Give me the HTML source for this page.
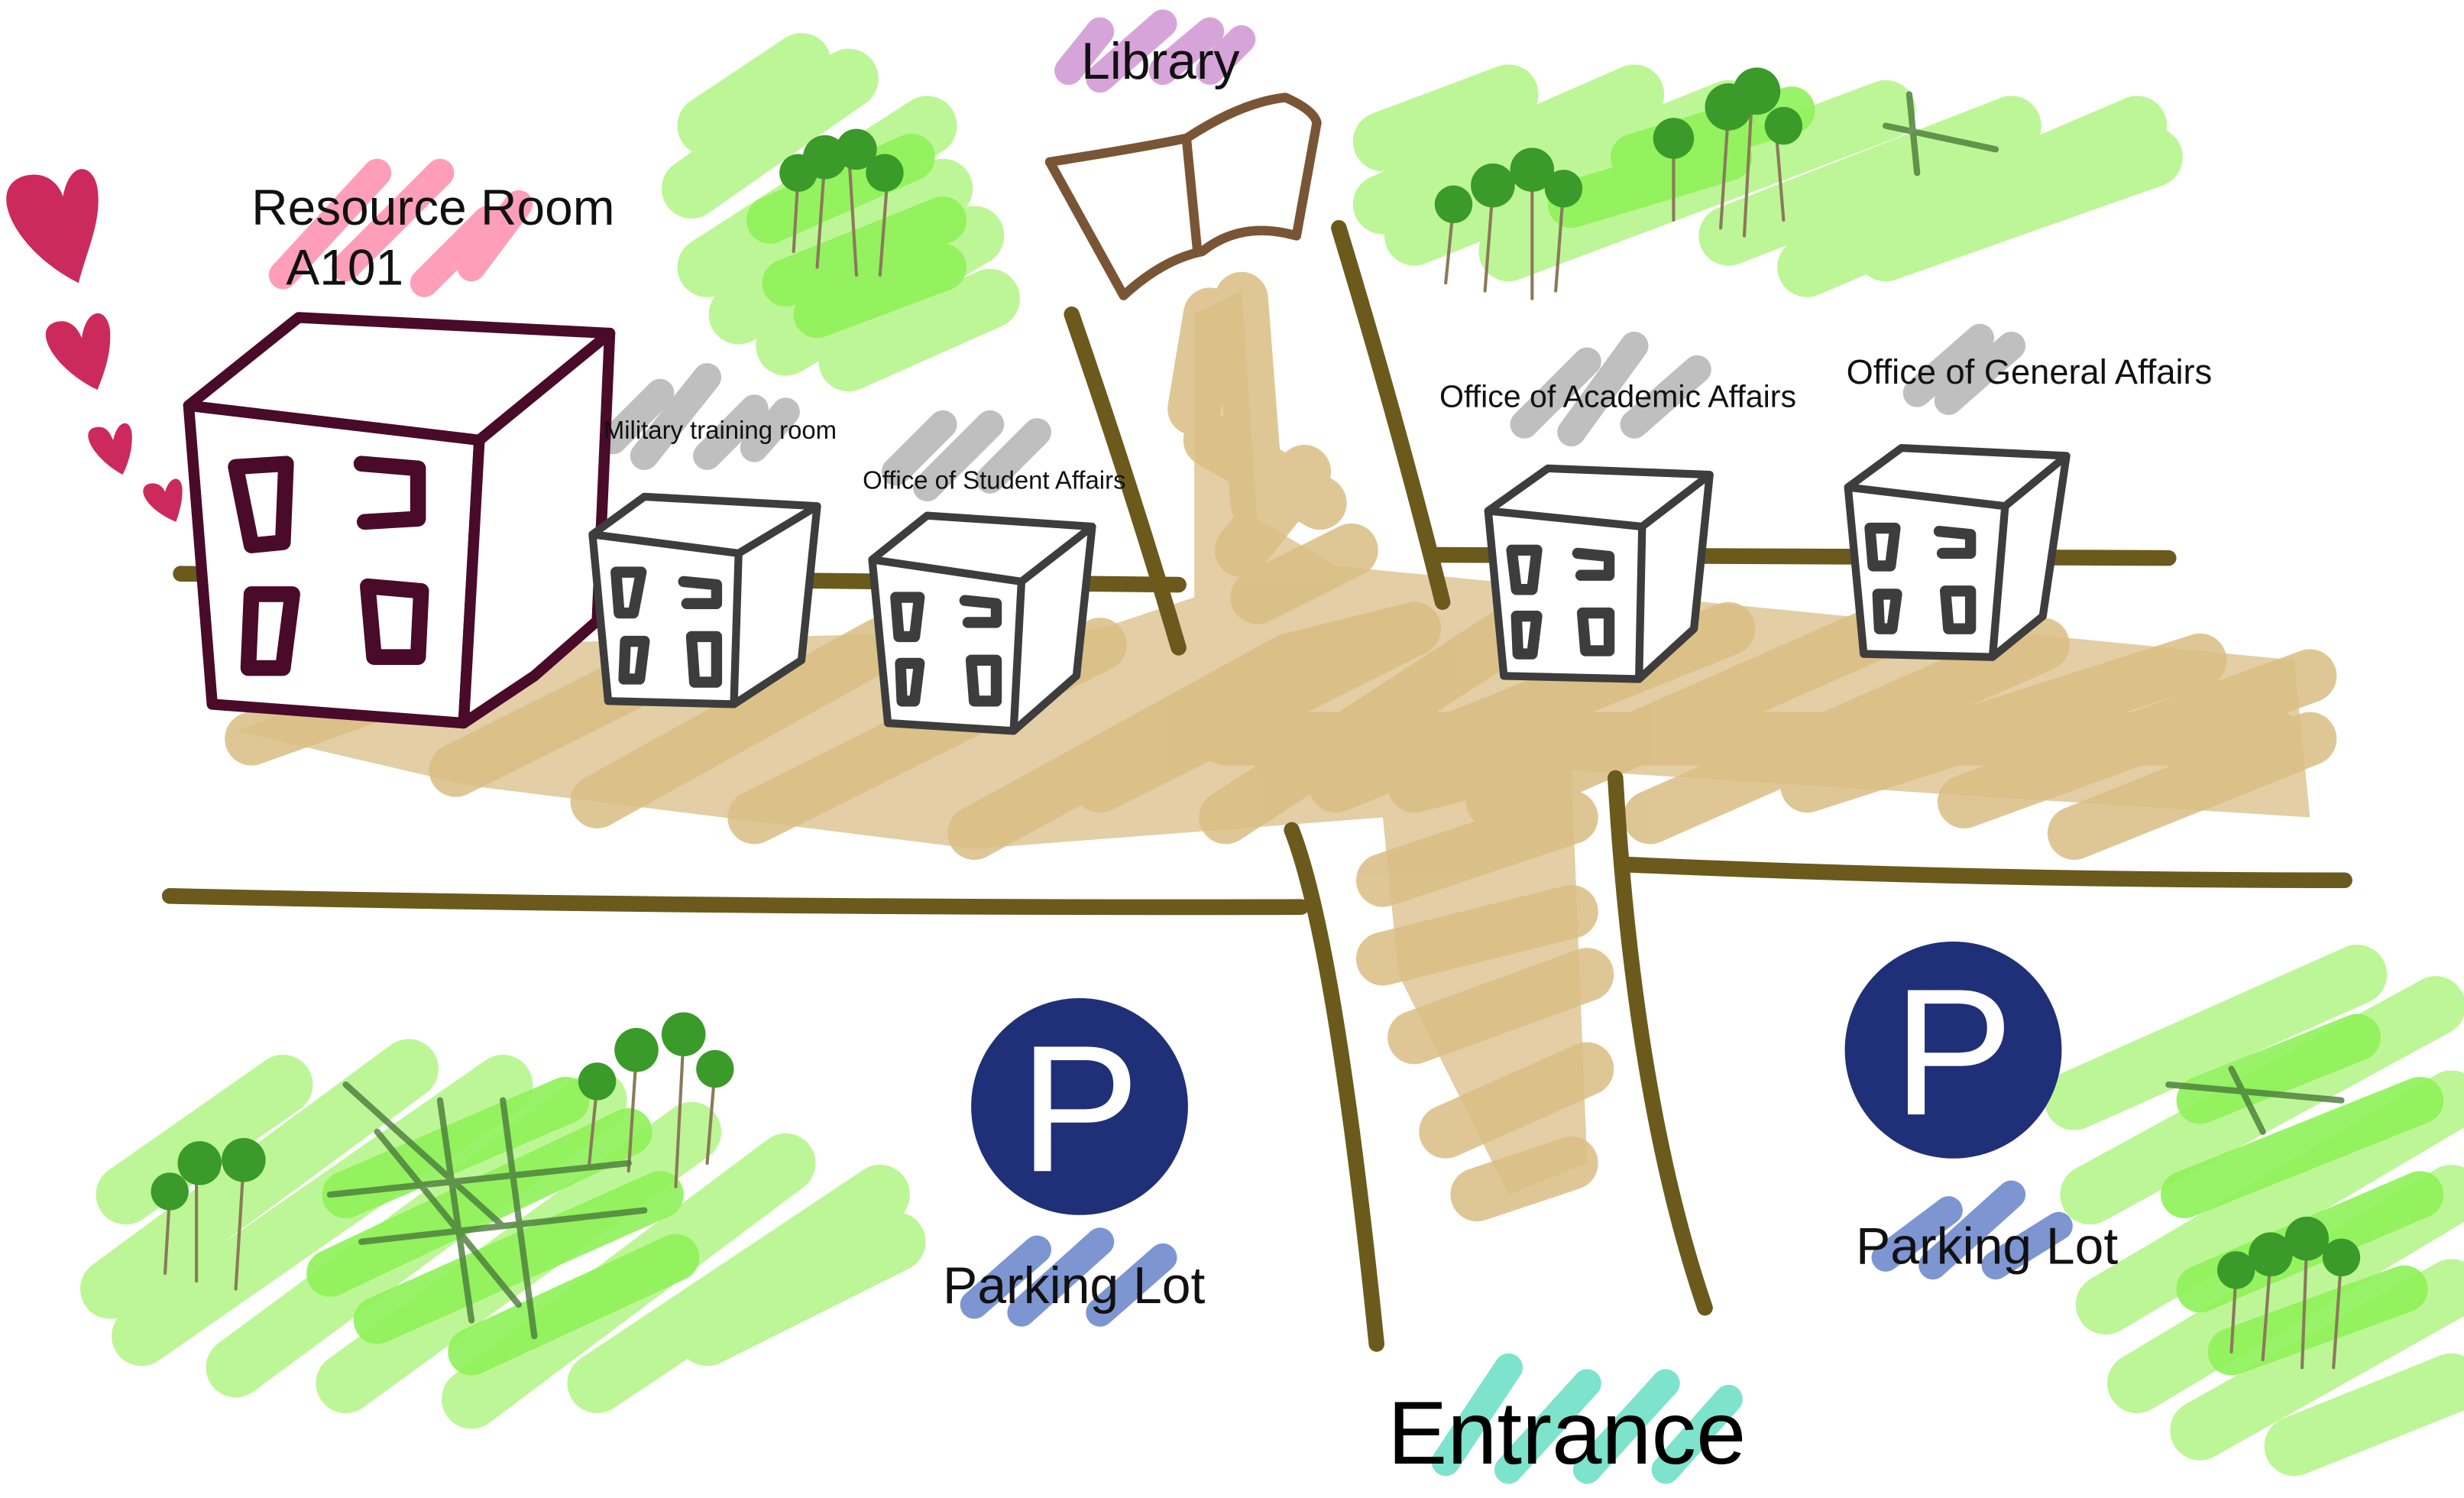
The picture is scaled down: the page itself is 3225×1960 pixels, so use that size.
<!DOCTYPE html>
<html><head><meta charset="utf-8"><style>
html,body{margin:0;padding:0;background:#fff;}
svg{display:block;}
text{font-family:"Liberation Sans",sans-serif;}
</style></head><body>
<svg width="3225" height="1960" viewBox="0 0 1568 953" xmlns="http://www.w3.org/2000/svg">
<g fill="none" stroke-linecap="round" stroke-linejoin="round">
<!-- greens -->
<g stroke="#b9f590" stroke-width="38" opacity="0.95">
<path d="M450,80 L510,40 M440,120 L540,50 M450,170 L590,80 M470,200 L600,120 M500,220 L620,150 M540,230 L630,190"/>
<path d="M880,90 L960,60 M880,130 L1040,60 M900,150 L1100,70 M960,160 L1200,70 M1100,150 L1280,80 M1150,170 L1360,80 M1200,160 L1370,100"/>
<path d="M80,760 L180,690 M70,820 L260,680 M90,850 L320,690 M150,870 L380,700 M220,880 L440,720 M300,890 L500,740 M380,880 L560,760 M450,850 L570,790"/>
<path d="M1320,700 L1500,620 M1330,760 L1550,640 M1340,830 L1560,700 M1360,880 L1560,760 M1400,910 L1560,820 M1460,920 L1560,880"/>
</g>
<g stroke="#8ef258" stroke-width="30" opacity="0.9">
<path d="M490,140 L580,100 M500,180 L600,140 M520,200 L600,170"/>
<path d="M220,760 L360,700 M210,810 L400,720 M240,840 L420,760 M300,860 L430,800"/>
<path d="M1400,700 L1500,660 M1390,760 L1540,700 M1400,820 L1540,760 M1420,860 L1530,820"/>
<path d="M1040,100 L1140,70 M1000,130 L1100,100"/>
</g>
<!-- tan path -->
<g fill="#dcc28e" stroke="none" opacity="0.8">
<path d="M150,465 L300,410 L700,400 L760,380 L760,200 L790,185 L800,330 L850,360 L1460,420 L1470,520 L1000,490 L1010,740 L960,760 L890,620 L880,520 L620,540 L300,500 Z"/>
</g>
<g stroke="#d9bd82" stroke-width="34" opacity="0.85">
<path d="M160,470 L300,420 M290,490 L450,410 M380,510 L560,410 M480,520 L700,410 M620,530 L820,420 M700,500 L900,400 M780,520 L980,390 M850,500 L1100,400 M950,510 L1200,400 M1050,520 L1300,410 M1150,500 L1400,420 M1250,510 L1470,430 M1320,530 L1470,470 M780,470 L1450,470"/>
<path d="M770,200 L760,260 M790,190 L800,320 M770,280 L840,320 M790,350 L830,300 M800,380 L860,350 M820,420 L900,400"/>
<path d="M900,500 L980,480 M880,560 L1000,520 M880,610 L1000,580 M900,660 L1010,620 M920,720 L1010,680 M940,760 L1000,740"/>
</g>
<!-- roads -->
<g stroke="#6b5a1c" stroke-width="10">
<path d="M115,365 L750,372"/>
<path d="M915,353 L1380,355"/>
<path d="M682,200 Q720,310 750,412"/>
<path d="M852,145 Q890,270 918,383"/>
<path d="M108,570 Q470,578 828,577"/>
<path d="M822,528 Q850,600 876,855"/>
<path d="M1028,495 Q1040,700 1085,832"/>
<path d="M1035,550 Q1260,560 1492,560"/>
</g>
<!-- label scribbles -->
<g stroke-width="18" opacity="0.9">
<path stroke="#ff93b0" d="M180,175 L240,110 M220,170 L280,110 M270,180 L310,140 M300,170 L330,130"/>
<path stroke="#d39ad6" d="M680,45 L700,20 M700,50 L740,15 M740,45 L770,20 M770,45 L790,25"/>
<path stroke="#b8b8b8" d="M390,280 L420,250 M410,290 L450,240 M450,290 L480,260 M480,285 L500,262"/>
<path stroke="#b8b8b8" d="M570,300 L600,270 M590,310 L630,270 M630,305 L660,275"/>
<path stroke="#b8b8b8" d="M970,270 L1010,230 M1000,275 L1040,220 M1040,270 L1080,235"/>
<path stroke="#b8b8b8" d="M1220,250 L1260,215 M1240,255 L1280,220"/>
<path stroke="#6f89cc" d="M620,830 L660,795 M650,835 L700,790 M700,835 L740,800"/>
<path stroke="#6f89cc" d="M1200,800 L1240,770 M1230,805 L1280,760 M1270,805 L1310,780"/>
<path stroke="#6fe0c8" d="M920,930 L960,870 M960,935 L1010,880 M1010,935 L1060,880 M1060,935 L1100,890"/>
</g>
<!-- library book -->
<path stroke="#7a5535" stroke-width="6" fill="#fff" d="M668,103 Q720,95 755,88 Q790,65 818,62 Q836,70 838,78 L825,150 Q790,140 765,160 Q740,165 715,188 Z"/>
<path stroke="#7a5535" stroke-width="6" d="M755,88 L762,160"/>
<!-- big building -->
<g stroke="#4a0a2a" stroke-width="7" fill="#fff">
<path d="M120,258 L305,280 L295,460 L135,448 Z"/>
<path d="M120,258 L190,202 L388,212 L305,280 Z"/>
<path d="M305,280 L388,212 L380,395 L340,430 L295,460 Z"/>
</g>
<g stroke="#4a0a2a" stroke-width="10" fill="none">
<path d="M150,297 L182,295 L180,345 L160,347 Z M230,295 L266,298 L266,330 L232,332 M160,378 L186,378 L180,425 L158,425 Z M234,373 L268,376 L266,418 L238,418 Z"/>
</g>
<!-- small buildings -->
<g stroke="#3d3d3d" stroke-width="5" fill="#fff">
<path d="M377,340 L470,352 L467,448 L387,446 Z M377,340 L410,316 L520,322 L470,352 Z M470,352 L520,322 L510,420 L467,448 Z"/>
<path d="M555,356 L650,370 L645,465 L565,460 Z M555,356 L590,328 L695,335 L650,370 Z M650,370 L695,335 L685,430 L645,465 Z"/>
<path d="M947,325 L1045,335 L1043,432 L957,430 Z M947,325 L985,298 L1088,302 L1045,335 Z M1045,335 L1088,302 L1078,400 L1043,432 Z"/>
<path d="M1176,310 L1276,322 L1268,418 L1186,416 Z M1176,310 L1210,285 L1315,290 L1276,322 Z M1276,322 L1315,290 L1300,392 L1268,418 Z"/>
</g>
<g stroke="#3d3d3d" stroke-width="7" fill="none">
<path d="M392,364 L408,364 L403,390 L394,390 Z M435,370 L456,372 L456,384 L437,384 M398,408 L410,408 L407,432 L397,432 Z M440,405 L456,405 L456,434 L442,434 Z"/>
<path d="M570,380 L585,380 L582,405 L572,405 Z M614,382 L634,384 L634,396 L616,396 M573,422 L585,422 L582,446 L574,446 Z M618,420 L634,420 L634,446 L620,446 Z"/>
<path d="M962,350 L978,350 L975,375 L965,375 Z M1004,352 L1024,354 L1024,366 L1006,366 M965,392 L978,392 L975,416 L966,416 Z M1007,390 L1024,390 L1024,414 L1009,414 Z"/>
<path d="M1190,336 L1206,336 L1203,360 L1192,360 Z M1234,338 L1254,340 L1254,352 L1236,352 M1195,378 L1207,378 L1204,400 L1196,400 Z M1238,376 L1254,376 L1254,400 L1240,400 Z"/>
</g>
<!-- trees -->
<g stroke="#8a7a5a" stroke-width="2">
<path d="M505,160 L508,110 M520,170 L525,100 M545,175 L540,95 M560,175 L565,110 M920,180 L925,130 M945,185 L950,120 M975,190 L975,110 M990,185 L995,120 M1065,140 L1065,90 M1095,145 L1100,70 M1110,150 L1115,60 M1135,140 L1130,80 M105,810 L108,760 M125,815 L125,740 M150,820 L155,740 M375,740 L380,690 M400,745 L405,670 M430,755 L435,660 M450,740 L455,680 M1420,860 L1423,810 M1440,865 L1445,800 M1465,870 L1468,790 M1485,870 L1490,800"/>
</g>
<g fill="#3a9a2a" stroke="none">
<circle cx="508" cy="110" r="12"/><circle cx="525" cy="100" r="14"/><circle cx="545" cy="95" r="13"/><circle cx="563" cy="110" r="12"/>
<circle cx="925" cy="130" r="12"/><circle cx="950" cy="118" r="14"/><circle cx="975" cy="108" r="14"/><circle cx="995" cy="120" r="12"/>
<circle cx="1065" cy="88" r="13"/><circle cx="1100" cy="68" r="15"/><circle cx="1118" cy="58" r="15"/><circle cx="1135" cy="80" r="12"/>
<circle cx="108" cy="758" r="12"/><circle cx="127" cy="740" r="14"/><circle cx="155" cy="738" r="14"/>
<circle cx="380" cy="688" r="12"/><circle cx="405" cy="668" r="14"/><circle cx="435" cy="658" r="14"/><circle cx="455" cy="680" r="12"/>
<circle cx="1423" cy="808" r="12"/><circle cx="1445" cy="798" r="14"/><circle cx="1468" cy="788" r="14"/><circle cx="1490" cy="800" r="12"/>
</g>
<g stroke="#4a7a3a" stroke-width="4" opacity="0.8">
<path d="M220,690 L320,780 M240,720 L330,830 M210,760 L400,740 M230,790 L410,770 M280,700 L300,840 M320,700 L340,850"/>
<path d="M1380,690 L1490,700 M1420,680 L1440,720"/>
<path d="M1200,80 L1270,95 M1215,60 L1220,110"/>
</g>
</g>
<!-- hearts -->
<g fill="#cc2a5c">
<path d="M50,180 C10,160 -10,120 15,112 C30,108 38,118 40,125 C45,100 60,105 62,120 C65,140 55,160 50,180 Z"/>
<path d="M62,248 C35,235 20,210 35,205 C45,202 50,210 52,215 C55,195 68,195 70,210 C71,225 66,238 62,248 Z"/>
<path d="M78,302 C60,292 50,275 60,272 C68,270 70,276 72,280 C75,266 84,266 84,278 C84,288 81,296 78,302 Z"/>
<path d="M112,332 C95,325 86,312 94,308 C100,306 104,310 105,313 C108,302 116,302 116,312 C116,320 114,326 112,332 Z"/>
</g>
<!-- parking -->
<circle cx="687" cy="704" r="69" fill="#1f3078"/>
<circle cx="1243" cy="668" r="69" fill="#1f3078"/>
<text x="687" y="745" font-size="115" fill="#fff" text-anchor="middle">P</text>
<text x="1243" y="709" font-size="115" fill="#fff" text-anchor="middle">P</text>
<!-- labels -->
<text x="160" y="143" font-size="32" fill="#111">Resource Room</text>
<text x="182" y="181" font-size="32" fill="#111">A101</text>
<text x="688" y="50" font-size="33" fill="#111">Library</text>
<text x="384" y="279" font-size="16" fill="#111">Military training room</text>
<text x="549" y="311" font-size="16" fill="#111">Office of Student Affairs</text>
<text x="916" y="259" font-size="20" fill="#111">Office of Academic Affairs</text>
<text x="1175" y="244" font-size="22" fill="#111">Office of General Affairs</text>
<text x="600" y="829" font-size="33" fill="#111">Parking Lot</text>
<text x="1181" y="804" font-size="33" fill="#111">Parking Lot</text>
<text x="883" y="931" font-size="57" fill="#000">Entrance</text>
</svg>
</body></html>
